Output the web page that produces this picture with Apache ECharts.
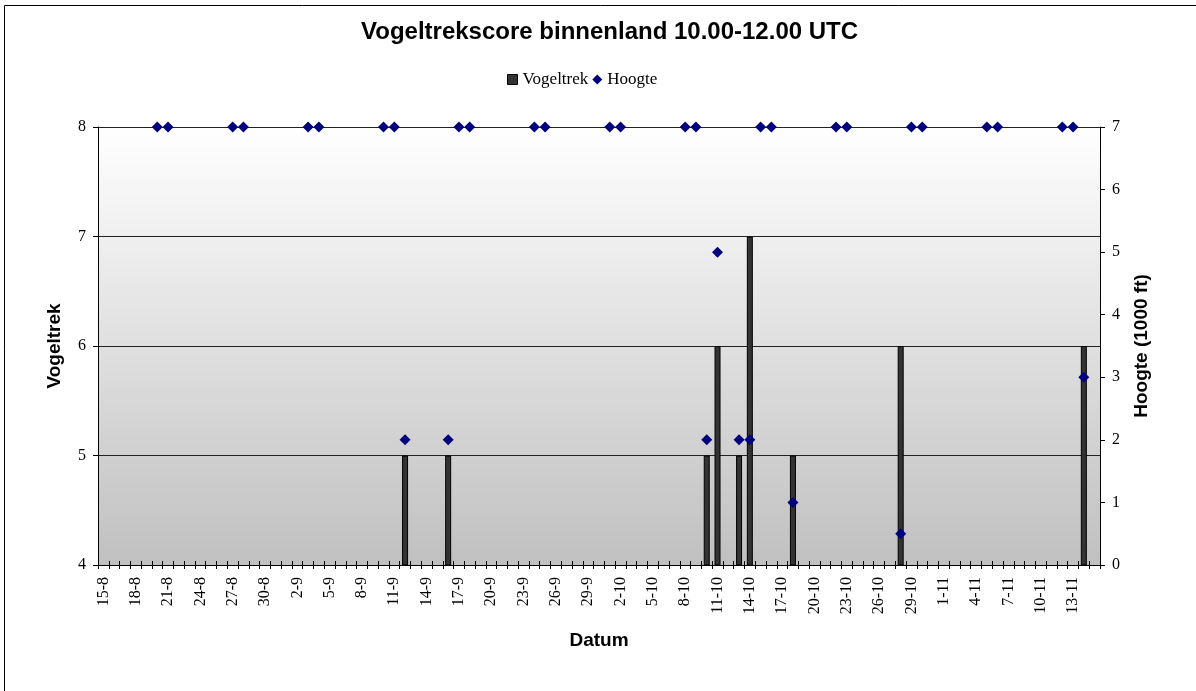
<!DOCTYPE html>
<html>
<head>
<meta charset="utf-8">
<script src="https://cdn.jsdelivr.net/npm/echarts@6/dist/echarts.min.js"></script>
<style>
  html, body { margin: 0; padding: 0; background: #fff; }
  #chart { width: 1196px; height: 691px; }
</style>
</head>
<body>
<div id="chart"></div>
<script>
// dagen 15-8 t/m 15-11
var datums = [
  '15-8','16-8','17-8','18-8','19-8','20-8','21-8','22-8','23-8','24-8','25-8','26-8','27-8','28-8','29-8','30-8','31-8',
  '1-9','2-9','3-9','4-9','5-9','6-9','7-9','8-9','9-9','10-9','11-9','12-9','13-9','14-9','15-9','16-9','17-9','18-9','19-9','20-9',
  '21-9','22-9','23-9','24-9','25-9','26-9','27-9','28-9','29-9','30-9',
  '1-10','2-10','3-10','4-10','5-10','6-10','7-10','8-10','9-10','10-10','11-10','12-10','13-10','14-10','15-10','16-10','17-10',
  '18-10','19-10','20-10','21-10','22-10','23-10','24-10','25-10','26-10','27-10','28-10','29-10','30-10','31-10',
  '1-11','2-11','3-11','4-11','5-11','6-11','7-11','8-11','9-11','10-11','11-11','12-11','13-11','14-11','15-11'
];

// score per dag (null = geen balk)
var vogeltrekDagen = ['12-9','16-9','10-10','11-10','13-10','14-10','18-10','28-10','14-11'];
var vogeltrekScore = [5, 5, 5, 6, 5, 7, 5, 6, 6];

// hoogte in 1000 ft
var hoogteDagen = [
  '20-8','21-8','27-8','28-8','3-9','4-9','10-9','11-9','12-9','16-9','17-9','18-9','24-9','25-9',
  '1-10','2-10','8-10','9-10','10-10','11-10','13-10','14-10','15-10','16-10','18-10','22-10','23-10',
  '28-10','29-10','30-10','5-11','6-11','12-11','13-11','14-11'
];
var hoogteWaarde = [
  7, 7, 7, 7, 7, 7, 7, 7, 2, 2, 7, 7, 7, 7,
  7, 7, 7, 7, 2, 5, 2, 2, 7, 7, 1, 7, 7,
  0.5, 7, 7, 7, 7, 7, 7, 3
];

var vogeltrek = datums.map(function (d) {
  var i = vogeltrekDagen.indexOf(d);
  return i < 0 ? null : vogeltrekScore[i];
});
var hoogte = datums.map(function (d) {
  var i = hoogteDagen.indexOf(d);
  return i < 0 ? null : hoogteWaarde[i];
});

var serif = '"Liberation Serif", "Times New Roman", serif';
var sans = '"Liberation Sans", Arial, sans-serif';

var chart = echarts.init(document.getElementById('chart'));
chart.setOption({
  animation: false,
  backgroundColor: '#fff',
  graphic: [{
    type: 'rect',
    shape: { x: 4.5, y: 5.5, width: 1200, height: 700 },
    style: { fill: 'none', stroke: '#000', lineWidth: 1 },
    silent: true,
    z: -10
  }],
  title: {
    text: 'Vogeltrekscore binnenland 10.00-12.00 UTC',
    left: 356,
    top: 15,
    textStyle: { fontFamily: sans, fontSize: 24, fontWeight: 'bold', color: '#000' }
  },
  legend: {
    top: 66,
    left: 502,
    itemGap: 4,
    itemWidth: 10,
    itemHeight: 10,
    textStyle: { fontFamily: serif, fontSize: 17, color: '#000' },
    data: [
      { name: 'Vogeltrek', icon: 'rect', itemStyle: { color: '#333', borderColor: '#000', borderWidth: 1 } },
      { name: 'Hoogte', icon: 'diamond', itemStyle: { color: '#000080', opacity: 1 } }
    ]
  },
  grid: {
    left: 98,
    right: 96,
    top: 127,
    bottom: 126,
    show: true,
    borderWidth: 0,
    backgroundColor: new echarts.graphic.LinearGradient(0, 0, 0, 1, [
      { offset: 0, color: '#ffffff' },
      { offset: 1, color: '#c0c0c0' }
    ])
  },
  xAxis: [{
    type: 'category',
    data: datums,
    boundaryGap: true,
    name: 'Datum',
    nameLocation: 'middle',
    nameGap: 66,
    nameTextStyle: { fontFamily: sans, fontSize: 19, fontWeight: 'bold', color: '#000' },
    axisLine: { lineStyle: { color: '#000', width: 1 } },
    axisTick: { show: true, interval: 0, length: 4, lineStyle: { color: '#000' } },
    axisLabel: { interval: 2, rotate: 90, fontFamily: serif, fontSize: 16, color: '#000', margin: 12 },
    splitLine: { show: false }
  }, {
    type: 'category',
    data: datums,
    position: 'bottom',
    boundaryGap: true,
    axisLine: { show: false },
    axisTick: { show: true, inside: true, interval: 0, length: 4, lineStyle: { color: '#000' } },
    axisLabel: { show: false },
    splitLine: { show: false }
  }],
  yAxis: [{
    type: 'value',
    min: 4,
    max: 8,
    interval: 1,
    name: 'Vogeltrek',
    nameLocation: 'middle',
    nameGap: 34,
    nameTextStyle: { fontFamily: sans, fontSize: 19, fontWeight: 'bold', color: '#000' },
    axisLine: { show: true, lineStyle: { color: '#000' } },
    axisTick: { show: true, length: 5, lineStyle: { color: '#000' } },
    axisLabel: { fontFamily: serif, fontSize: 16, color: '#000', margin: 12 },
    splitLine: { show: true, lineStyle: { color: '#222', width: 1 } }
  }, {
    type: 'value',
    min: 0,
    max: 7,
    interval: 1,
    position: 'right',
    name: 'Hoogte (1000 ft)',
    nameLocation: 'middle',
    nameGap: 32,
    nameRotate: 90,
    nameTextStyle: { fontFamily: sans, fontSize: 19, fontWeight: 'bold', color: '#000' },
    axisLine: { show: true, lineStyle: { color: '#000' } },
    axisTick: { show: true, length: 5, lineStyle: { color: '#000' } },
    axisLabel: { fontFamily: serif, fontSize: 16, color: '#000', margin: 12 },
    splitLine: { show: false }
  }],
  series: [{
    name: 'Vogeltrek',
    type: 'bar',
    xAxisIndex: 0,
    yAxisIndex: 0,
    data: vogeltrek,
    barWidth: 6,
    itemStyle: { color: '#333', borderColor: '#000', borderWidth: 1 }
  }, {
    name: 'Hoogte',
    type: 'scatter',
    xAxisIndex: 0,
    yAxisIndex: 1,
    data: hoogte,
    symbol: 'diamond',
    symbolSize: 11,
    itemStyle: { color: '#000080', opacity: 1 },
    z: 5
  }]
});
</script>
</body>
</html>
